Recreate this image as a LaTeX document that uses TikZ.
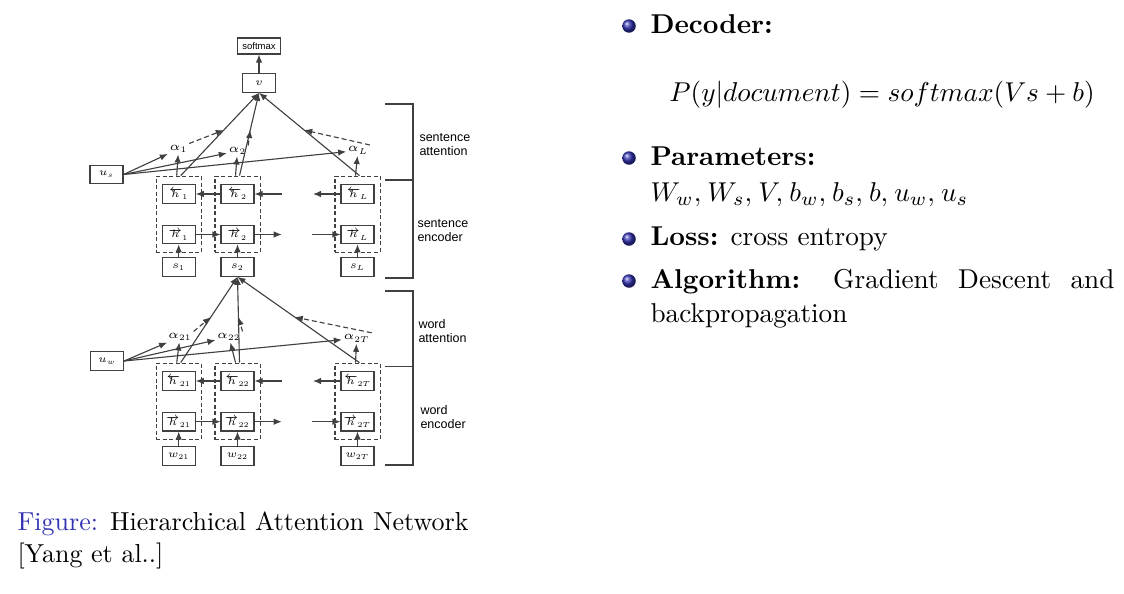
\documentclass[tikz,border=0pt]{standalone}
\usepackage{fix-cm}
\usepackage{fontspec}
\newfontfamily\diagfont{Liberation Sans}
\usepackage{xcolor}
\usepackage{tikz}
\usetikzlibrary{arrows.meta,positioning,calc,fit}
\definecolor{beamblue}{rgb}{0.2,0.2,0.7}
\definecolor{linegray}{gray}{0.25}
\tikzset{
  cell/.style={draw=linegray,line width=0.45pt,minimum width=13.2pt,minimum height=7.4pt,inner sep=0pt,font=\fontsize{4.2}{4.2}\selectfont},
  grp/.style={draw=linegray,dash pattern=on 1.6pt off 1pt,line width=0.45pt,inner xsep=2.2pt,inner ysep=3.2pt},
  conn/.style={draw=linegray,line width=0.45pt},
  arr/.style={conn,-{Latex[length=3.2pt,width=2.6pt]}},
  att/.style={arr,dash pattern=on 2pt off 1.2pt},
  alab/.style={inner sep=0.5pt,font=\fontsize{4.8}{5}\selectfont},
  side/.style={font=\diagfont\fontsize{5}{5.6}\selectfont,align=left,anchor=west,inner sep=0pt},
  bullet/.style={circle,inner sep=0pt,minimum size=5.4pt,shade,ball color=beamblue},
  txt/.style={anchor=base west,inner sep=0pt,font=\fontsize{10.9}{13.6}\selectfont},
}

\begin{document}
\begin{tikzpicture}[x=0.4pt,y=-0.4pt]
  \useasboundingbox (0,0) rectangle (1124,593);
  % sentence level
  \node[cell,minimum width=17.2pt,minimum height=6.4pt,font=\diagfont\fontsize{3.8}{4}\selectfont] (soft) at (259,46) {softmax};
  \node[cell] (v) at (259,83) {$v$};
  \node[cell] (us) at (106.5,174.5) {$u_s$};
  \foreach \i/\x in {1/178.7,2/237.5,L/357.5}{
    \node[cell] (hb\i) at (\x,194) {$\overleftarrow{h}_{\i}$};
    \node[cell] (hf\i) at (\x,234.5) {$\overrightarrow{h}_{\i}$};
    \node[cell] (s\i) at (\x,267) {$s_{\i}$};
    \node[grp,fit=(hb\i)(hf\i)] (gs\i) {};
    \draw[arr] (s\i) -- (hf\i);
  }
  \node[alab] (a1) at (178.5,149) {$\alpha_1$};
  \node[alab] (a2) at (237.5,151) {$\alpha_2$};
  \node[alab] (aL) at (358,150.5) {$\alpha_L$};
  \draw[arr] (v) -- (soft);
  \coordinate (bs) at (281.7,194);
  \coordinate (be) at (313,194);
  \coordinate (fs) at (281.7,234.5);
  \coordinate (fe) at (311.7,234.5);
  \draw[arr] (hb2) -- (hb1);
  \draw[arr] (bs) -- (hb2);
  \draw[arr] (hbL) -- (be);
  \draw[arr] (hf1) -- (hf2);
  \draw[arr] (hf2) -- (fs);
  \draw[arr] (fe) -- (hfL);
  \foreach \i in {1,2,L}{
    \draw[arr] ([xshift=-0.8pt]gs\i.north) -- (a\i);
    \draw[arr] ([xshift=0.8pt]gs\i.north) -- (v.south);
    \draw[arr] (us.east) -- (a\i);
    \draw[att] (a\i.north east) -- ($([xshift=0.8pt]gs\i.north)!0.55!(v.south)$);
  }
  % word level
  \node[cell] (uw) at (107,361) {$u_w$};
  \foreach \i/\x in {21/178.7,22/237.5,2T/357.5}{
    \node[cell] (hb\i) at (\x,381) {$\overleftarrow{h}_{\i}$};
    \node[cell] (hf\i) at (\x,421.7) {$\overrightarrow{h}_{\i}$};
    \node[cell] (w\i) at (\x,456) {$w_{\i}$};
    \node[grp,fit=(hb\i)(hf\i)] (gw\i) {};
    \draw[arr] (w\i) -- (hf\i);
  }
  \node[alab] (a21) at (180,337) {$\alpha_{21}$};
  \node[alab] (a22) at (229,337) {$\alpha_{22}$};
  \node[alab] (a2T) at (356.7,338.3) {$\alpha_{2T}$};
  \coordinate (wbs) at (281.7,381);
  \coordinate (wbe) at (313,381);
  \coordinate (wfs) at (281.7,421.7);
  \coordinate (wfe) at (311.7,421.7);
  \draw[arr] (hb22) -- (hb21);
  \draw[arr] (wbs) -- (hb22);
  \draw[arr] (hb2T) -- (wbe);
  \draw[arr] (hf21) -- (hf22);
  \draw[arr] (hf22) -- (wfs);
  \draw[arr] (wfe) -- (hf2T);
  \foreach \i in {21,22,2T}{
    \draw[arr] ([xshift=-0.8pt]gw\i.north) -- (a\i);
    \draw[arr] ([xshift=0.8pt]gw\i.north) -- (s2.south);
    \draw[arr] (uw.east) -- (a\i);
    \draw[att] (a\i.north east) -- ($([xshift=0.8pt]gw\i.north)!0.53!(s2.south)$);
  }
  % brackets
  \draw[conn] (385,104) -- (413,104) -- (413,278) -- (385,278);
  \draw[conn] (385,180) -- (413,180);
  \draw[conn] (385,291) -- (413,291) -- (413,465) -- (385,465);
  \draw[conn] (385,366.7) -- (413,366.7);
  \node[side] (satt) at (419,145) {sentence\\attention};
  \node[side] (senc) at (417,231) {sentence\\encoder};
  \node[side] (watt) at (418,331) {word\\attention};
  \node[side] (wenc) at (420,417) {word\\encoder};
  % caption
  \node[txt,font=\fontsize{10.4}{12.8}\selectfont] (cap) at (17,530) {\makebox[180.4pt][s]{\textcolor{beamblue}{Figure:} Hierarchical Attention Network}};
  \node[txt,font=\fontsize{10.4}{12.8}\selectfont] (cap2) at (17,562) {[Yang et al..]};
  % right column
  \node[bullet] (b1) at (629,26) {};
  \node[txt] (dec) at (650,33) {\textbf{Decoder:}};
  \node[txt,anchor=base] (eq) at (882,101) {$P(y|document) = softmax(Vs + b)$};
  \node[bullet] (b2) at (629,158) {};
  \node[txt] (par) at (650,165) {\textbf{Parameters:}};
  \node[txt] (plist) at (650,201) {$W_w,\mkern1mu W_s,\mkern1mu V,\mkern1mu b_w,\mkern1mu b_s,\mkern1mu b,\mkern1mu u_w,\mkern1mu u_s$};
  \node[bullet] (b3) at (629,239) {};
  \node[txt] (loss) at (650,245) {\textbf{Loss:} cross entropy};
  \node[bullet] (b4) at (629,281) {};
  \node[txt] (alg) at (650,288) {\makebox[185.6pt][s]{\textbf{Algorithm:} Gradient Descent and}};
  \node[txt] (alg2) at (650,322) {backpropagation};
\end{tikzpicture}
\end{document}
